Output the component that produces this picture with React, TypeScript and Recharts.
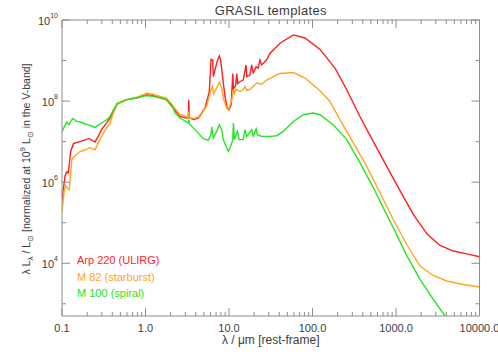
import React from "react";
import { LineChart, Line, XAxis, YAxis, Legend } from "recharts";

const FONT = "'Liberation Sans', Arial, sans-serif";
const AXIS = "#8c8c8c";
const INK = "#3c3c3c";

// wavelength in micron, lambda*L_lambda / L_sun
const arpWave = [
  0.1, 0.109, 0.114, 0.119, 0.127, 0.137, 0.164, 0.189, 0.212, 0.248,
  0.272, 0.299, 0.343, 0.376, 0.412, 0.46, 0.596, 0.785, 1.03, 1.23,
  1.49, 1.79, 2.15, 2.59, 3.11, 3.26, 3.29, 3.34, 3.74, 4.29,
  5.16, 5.81, 6.09, 6.38, 6.49, 6.89, 7.24, 7.65, 7.95, 8.41,
  8.96, 9.54, 10.0, 10.6, 11.1, 11.3, 12.0, 12.4, 12.7, 13.5,
  14.8, 16.0, 16.3, 17.8, 18.7, 19.5, 21.1, 22.4, 23.5, 24.6,
  28.3, 31.0, 40.8, 58.9, 81.3, 123, 186, 257, 371, 535, 774,
  1117, 1612, 2332, 3365, 4857, 7025, 10000,
];
const arpLum = [
  3.7e5, 1.45e6, 1.8e6, 1.7e6, 5.7e6, 8.9e6, 1.0e7, 1.1e7, 1.2e7, 9.8e6,
  1.35e7, 2.0e7, 2.9e7, 3.8e7, 5.5e7, 8.6e7, 1.09e8, 1.19e8, 1.43e8, 1.35e8,
  1.23e8, 1.08e8, 6.7e7, 4.2e7, 3.8e7, 3.9e7, 1.08e8, 3.9e7, 3.5e7, 3.8e7,
  6.8e7, 1.7e8, 1.07e9, 1.04e9, 4.0e8, 6.6e8, 9.8e8, 1.3e9, 1.04e9, 3.7e8,
  1.28e8, 6.7e7, 6.1e7, 8.1e7, 4.8e8, 2.0e8, 2.4e8, 4.8e8, 2.7e8, 3.0e8,
  3.3e8, 7.8e8, 4.0e8, 4.4e8, 7.8e8, 5.0e8, 7.0e8, 6.5e8, 1.04e9, 7.8e8,
  1.04e9, 1.52e9, 2.67e9, 4.28e9, 3.6e9, 1.88e9, 6.5e8, 1.9e8, 4.1e7, 1.0e7, 2.46e6,
  6.2e5, 1.6e5, 5.4e4, 2.75e4, 2.0e4, 1.7e4, 1.45e4,
];

const m82Wave = [
  0.1, 0.107, 0.11, 0.116, 0.122, 0.131, 0.143, 0.164, 0.189, 0.216,
  0.248, 0.272, 0.299, 0.343, 0.376, 0.412, 0.46, 0.596, 0.785, 1.03,
  1.23, 1.49, 1.79, 2.15, 2.59, 3.11, 3.26, 3.29, 3.34, 3.92,
  4.5, 5.41, 6.09, 6.31, 6.52, 7.12, 7.65, 8.18, 8.59, 9.39,
  9.86, 10.8, 11.3, 11.6, 12.1, 13.5, 14.8, 15.5, 16.3, 17.8,
  19.5, 21.5, 24.6, 28.3, 37.3, 40.8, 58.9, 81.3, 123, 162,
  213, 308, 446, 643, 928, 1343, 1938, 2797, 4048, 6397, 10000,
];
const m82Lum = [
  1.9e5, 6.6e5, 8.3e5, 7.2e5, 6.6e5, 3.6e6, 4.5e6, 5.7e6, 6.2e6, 7.1e6,
  6.3e6, 9.3e6, 1.4e7, 2.2e7, 2.8e7, 5.1e7, 8.3e7, 1.09e8, 1.24e8, 1.56e8,
  1.47e8, 1.3e8, 1.19e8, 7.4e7, 4.6e7, 4.2e7, 4.0e7, 5.5e7, 3.8e7, 3.8e7,
  4.2e7, 7.7e7, 1.9e8, 2.3e8, 1.5e8, 2.1e8, 2.9e8, 2.1e8, 1.14e8, 6.7e7,
  6.1e7, 1.08e8, 1.9e8, 1.57e8, 1.95e8, 1.72e8, 1.9e8, 2.3e8, 1.84e8, 1.95e8,
  2.3e8, 2.8e8, 2.6e8, 3.3e8, 4.4e8, 4.8e8, 5.05e8, 3.7e8, 1.79e8, 9.8e7,
  3.5e7, 9.3e6, 2.46e6, 5.5e5, 1.2e5, 2.9e4, 8.5e3, 5.0e3, 3.65e3, 3.0e3, 2.6e3,
];

const m100Wave = [
  0.1, 0.114, 0.121, 0.134, 0.15, 0.167, 0.189, 0.216, 0.248, 0.285,
  0.343, 0.376, 0.412, 0.46, 0.596, 0.785, 1.03, 1.23, 1.49, 1.79,
  2.06, 2.26, 2.59, 3.23, 3.3, 3.37, 4.1, 4.92, 5.65, 6.09,
  6.21, 6.49, 7.12, 7.65, 8.18, 8.54, 9.39, 9.81, 10.5, 11.1,
  11.3, 11.6, 12.6, 13.2, 14.8, 15.5, 16.3, 18.7, 19.5, 21.1,
  21.8, 24.6, 31.0, 37.3, 44.7, 58.9, 77.6, 102, 123, 177,
  257, 371, 535, 643, 928, 1343, 1938, 2797, 3864,
];
const m100Lum = [
  1.76e7, 3.04e7, 2.61e7, 3.73e7, 3.15e7, 3.04e7, 2.72e7, 2.51e7, 2.24e7, 2.72e7,
  3.47e7, 4.18e7, 6.11e7, 8.83e7, 1.09e8, 1.21e8, 1.37e8, 1.31e8, 1.19e8, 1.08e8,
  8.1e7, 5.07e7, 3.82e7, 2.93e7, 3.47e7, 2.69e7, 1.79e7, 1.18e7, 1.09e7, 1.48e7,
  2.33e7, 1.23e7, 1.79e7, 2.61e7, 1.97e7, 1.12e7, 6.98e6, 5.75e6, 7.64e6, 1.12e7,
  2.88e7, 1.12e7, 1.79e7, 1.12e7, 1.12e7, 1.97e7, 1.35e7, 1.97e7, 1.35e7, 2.05e7,
  1.48e7, 1.35e7, 1.35e7, 1.4e7, 1.79e7, 3.15e7, 4.6e7, 5.07e7, 4.6e7, 2.61e7,
  1.12e7, 2.98e6, 7.36e5, 3.39e5, 7.51e4, 1.56e4, 4.02e3, 1.29e3, 500,
];

const seriesNames = ["Arp 220 (ULIRG)", "M 82 (starburst)", "M 100 (spiral)"];
const seriesColors = ["#ff1e1e", "#ffa51e", "#22e622"];

const xMajor = [0.1, 1, 10, 100, 1000, 10000];
const yDecades = [3, 4, 5, 6, 7, 8, 9, 10];

const xTicks: number[] = [];
xMajor.forEach((m, i) => {
  xTicks.push(m);
  if (i < xMajor.length - 1)
    for (let k = 2; k <= 9; k++) xTicks.push(+(m * k).toPrecision(6));
});
const yTicks = yDecades.map((e) => Math.pow(10, e));

const toPoints = (wave: number[], lum: number[]) =>
  wave.map((w, i) => ({ w, L: lum[i] }));

const series = [
  { name: seriesNames[0], color: seriesColors[0], points: toPoints(arpWave, arpLum) },
  { name: seriesNames[1], color: seriesColors[1], points: toPoints(m82Wave, m82Lum) },
  { name: seriesNames[2], color: seriesColors[2], points: toPoints(m100Wave, m100Lum) },
];

const isDecade = (v: number) => {
  const l = Math.log10(v);
  return Math.abs(l - Math.round(l)) < 1e-6;
};

function XTick(props: any) {
  const { x, y, payload, side } = props;
  const v = payload.value;
  const major = isDecade(v);
  const len = major ? 8 : 4;
  const dir = side === "bottom" ? -1 : 1;
  return (
    <g>
      <line x1={x} x2={x} y1={y} y2={y + dir * len} stroke={AXIS} />
      {side === "bottom" && major && (
        <text x={x} y={y + 16} textAnchor="middle" fontSize={11} fill={INK} fontFamily={FONT}>
          {v.toFixed(1)}
        </text>
      )}
    </g>
  );
}

function YTick(props: any) {
  const { x, y, payload, side } = props;
  const e = Math.round(Math.log10(payload.value));
  const major = e % 2 === 0;
  const len = major ? 8 : 4;
  const dir = side === "left" ? 1 : -1;
  return (
    <g>
      <line x1={x} x2={x + dir * len} y1={y} y2={y} stroke={AXIS} />
      {side === "left" && major && (
        <text x={x - 4} y={y + 5} textAnchor="end" fontSize={11} fill={INK} fontFamily={FONT}>
          10
          <tspan dy={-7} fontSize={7}>{e}</tspan>
        </text>
      )}
    </g>
  );
}

const titleLabel = (p: any) => {
  const vb = p.viewBox;
  return (
    <text x={vb.x + vb.width / 2} y={15} textAnchor="middle" fontSize={13} fill={INK} fontFamily={FONT} letterSpacing={0.3}>
      GRASIL templates
    </text>
  );
};

const xLabel = (p: any) => {
  const vb = p.viewBox;
  return (
    <text x={vb.x + vb.width / 2} y={344} textAnchor="middle" fontSize={12} fill={INK} fontFamily={FONT}>
      {"λ / μm [rest-frame]"}
    </text>
  );
};

const yLabel = () => {
  const cx = 30;
  const cy = 169;
  return (
    <text x={cx} y={cy} transform={`rotate(-90 ${cx} ${cy})`} textAnchor="middle" fontSize={10.5} fill={INK} fontFamily={FONT}>
      {"λ L"}
      <tspan dy={3} fontSize={8}>λ</tspan>
      <tspan dy={-3}>{" / L"}</tspan>
      <tspan dy={3} fontSize={8}>⊙</tspan>
      <tspan dy={-3}>{" [normalized at 10"}</tspan>
      <tspan dy={-5} fontSize={8}>9</tspan>
      <tspan dy={5}>{" L"}</tspan>
      <tspan dy={3} fontSize={8}>⊙</tspan>
      <tspan dy={-3}>{" in the V-band]"}</tspan>
    </text>
  );
};

function LegendBox(props: any) {
  const items = [...(props.payload || [])].sort(
    (a: any, b: any) => seriesNames.indexOf(a.value) - seriesNames.indexOf(b.value)
  );
  return (
    <div style={{ fontFamily: FONT, fontSize: 11 }}>
      {items.map((e: any) => (
        <div key={e.value} style={{ color: e.color, lineHeight: "16.5px", whiteSpace: "nowrap" }}>
          {e.value}
        </div>
      ))}
    </div>
  );
}

export default function App() {
  return (
    <div style={{ position: "absolute", left: 0, top: 0, width: 498, height: 356, background: "#fff" }}>
      <LineChart width={498} height={356} margin={{ top: 0, right: 0, bottom: 0, left: 0 }}>
        <XAxis
          xAxisId="b"
          orientation="bottom"
          type="number"
          dataKey="w"
          scale="log"
          domain={[0.1, 10000]}
          allowDataOverflow
          ticks={xTicks}
          interval={0}
          height={40}
          tickSize={0}
          tickMargin={0}
          tickLine={false}
          axisLine={{ stroke: AXIS }}
          tick={(p: any) => <XTick {...p} side="bottom" />}
          label={xLabel}
        />
        <XAxis
          xAxisId="t"
          orientation="top"
          type="number"
          dataKey="w"
          scale="log"
          domain={[0.1, 10000]}
          allowDataOverflow
          ticks={xTicks}
          interval={0}
          height={20}
          tickSize={0}
          tickMargin={0}
          tickLine={false}
          axisLine={{ stroke: AXIS }}
          tick={(p: any) => <XTick {...p} side="top" />}
          label={titleLabel}
        />
        <YAxis
          yAxisId="l"
          orientation="left"
          type="number"
          scale="log"
          domain={[500, 1e10]}
          allowDataOverflow
          ticks={yTicks}
          interval={0}
          width={62}
          tickSize={0}
          tickMargin={0}
          tickLine={false}
          axisLine={{ stroke: AXIS }}
          tick={(p: any) => <YTick {...p} side="left" />}
          label={yLabel}
        />
        <YAxis
          yAxisId="r"
          orientation="right"
          type="number"
          scale="log"
          domain={[500, 1e10]}
          allowDataOverflow
          ticks={yTicks}
          interval={0}
          width={18.5}
          tickSize={0}
          tickMargin={0}
          tickLine={false}
          axisLine={{ stroke: AXIS }}
          tick={(p: any) => <YTick {...p} side="right" />}
        />
        {series.map((s) => (
          <Line
            key={s.name}
            xAxisId="b"
            yAxisId="l"
            data={s.points}
            dataKey="L"
            name={s.name}
            type="linear"
            stroke={s.color}
            strokeWidth={1.4}
            dot={false}
            activeDot={false}
            isAnimationActive={false}
          />
        ))}
        <Legend
          layout="vertical"
          align="center"
          verticalAlign="middle"
          wrapperStyle={{ left: 77, top: 252, width: 160, height: 52 }}
          content={LegendBox}
        />
      </LineChart>
    </div>
  );
}
